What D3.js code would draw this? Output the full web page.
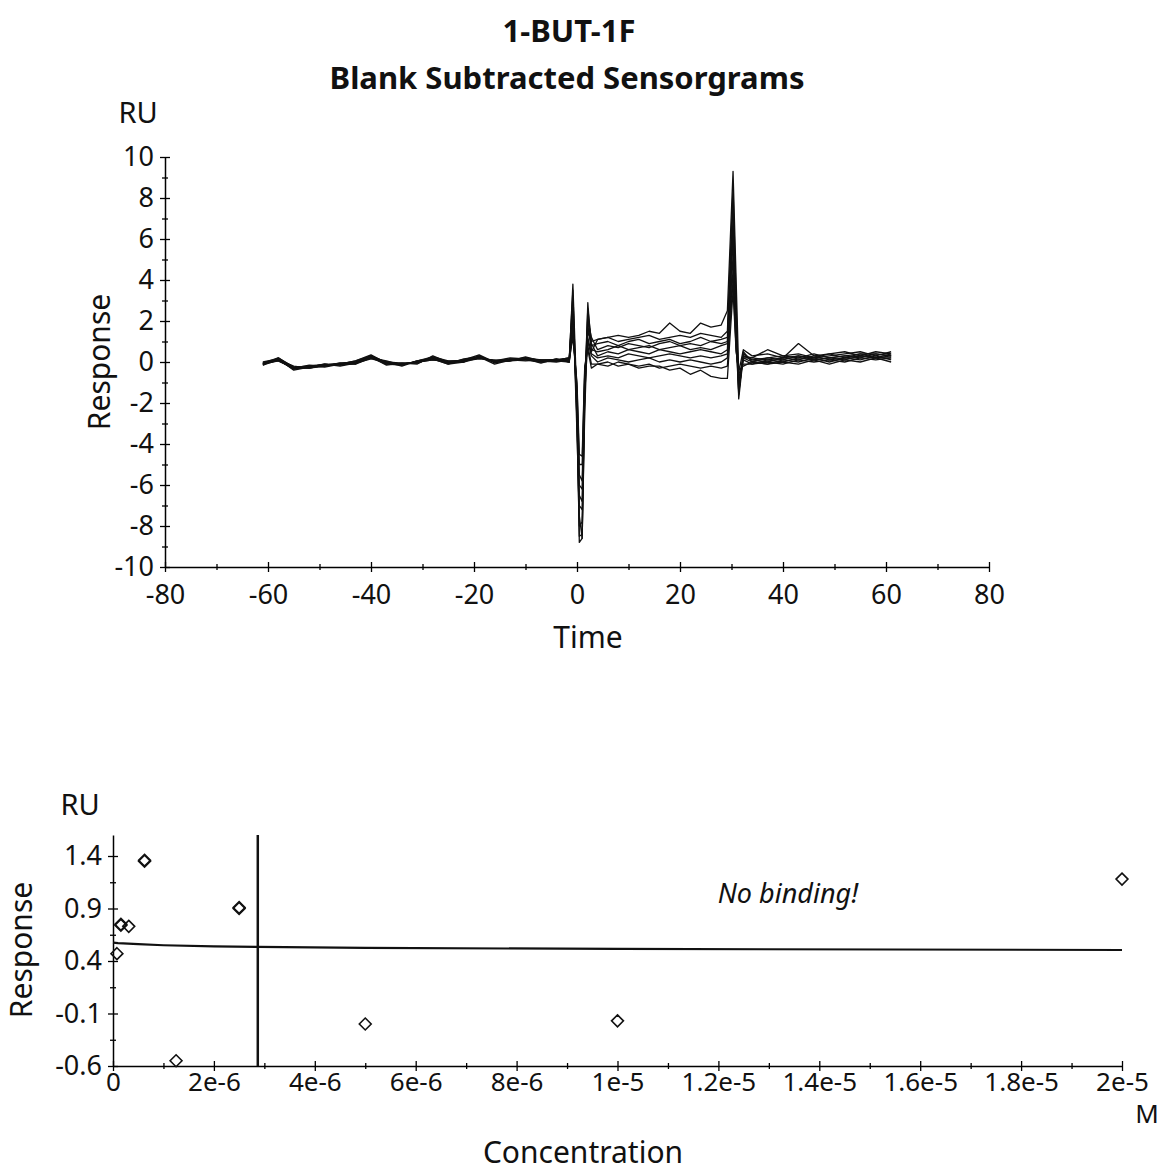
<!DOCTYPE html>
<html>
<head>
<meta charset="utf-8">
<script src="https://d3js.org/d3.v7.min.js"></script>
<style>
  body { margin: 0; background: #fff; }
  svg { display: block; }
  text { font-family: "Noto Sans", "Open Sans", sans-serif; fill: #111; }
  .tick text { font-size: 27px; }
  .title { font-weight: bold; font-size: 31px; }
</style>
</head>
<body>
<svg width="1159" height="1174"></svg>
<script>

// ---- sensorgram data (top chart) ----
const sensorTime = [-61, -58, -55, -52, -49, -46, -43, -40, -37, -34, -31, -28, -25, -22, -19, -16, -13, -10, -7, -4,
  -1.5, -0.8, 0, 0.45, 1, 1.5, 2.1, 2.8,
  4, 6, 8, 10, 12, 14, 16, 18, 20, 22, 24, 26, 28,
  29.2, 30.3, 30.9, 31.4, 32.3,
  34, 37, 40, 43, 46, 49, 52, 55, 58, 61];

const curve1 = [-0.1, 0.15, -0.3, -0.25, -0.15, -0.1, -0.05, 0.25, -0.05, -0.1, 0.0, 0.2, -0.05, 0.05, 0.25, 0.0, 0.1, 0.15, 0.05, 0.1,
  0.1, 3.8, -2, -8.8, -8.6, -2, 2.9, 0.5,
  1.1, 1.2, 1.3, 1.2, 1.3, 1.5, 1.4, 1.9, 1.5, 1.4, 1.9, 1.7, 1.8,
  2.5, 9.3, 4, -0.5, 0.6,
  0.3, 0.4, 0.2, 0.9, 0.3, 0.4, 0.5, 0.3, 0.5, 0.4];
const curve2 = [-0.05, 0.1, -0.35, -0.2, -0.1, -0.15, 0.0, 0.3, 0.0, -0.05, -0.05, 0.25, 0.0, 0.1, 0.2, 0.05, 0.05, 0.2, 0.1, 0.05,
  0.2, 3.5, -3, -8.5, -8.4, -1, 2.6, 1.0,
  1.1, 1.2, 1.0, 1.1, 1.2, 1.3, 1.1, 1.2, 1.3, 1.2, 1.4, 1.3, 1.2,
  1.5, 8.5, 3, -1.8, 0.3,
  0.2, 0.6, 0.3, 0.4, 0.2, 0.3, 0.4, 0.5, 0.3, 0.5];
const curve3 = [-0.15, 0.2, -0.25, -0.3, -0.2, -0.05, -0.1, 0.2, -0.1, -0.15, 0.05, 0.15, -0.1, 0.0, 0.3, -0.05, 0.15, 0.1, 0.0, 0.15,
  0.0, 3.2, -2.5, -8.0, -7.8, -1.5, 2.3, 0.8,
  0.9, 1.0, 0.8, 1.0, 1.1, 0.9, 1.0, 1.1, 0.9, 1.0, 1.2, 1.0, 1.1,
  1.2, 7.8, 2.5, -1.5, 0.4,
  0.1, 0.2, 0.3, 0.2, 0.4, 0.2, 0.3, 0.4, 0.4, 0.3];
const curve4 = [-0.1, 0.05, -0.3, -0.15, -0.2, -0.1, 0.05, 0.35, -0.05, -0.1, 0.0, 0.1, 0.05, 0.05, 0.15, 0.1, 0.05, 0.25, 0.05, 0.0,
  0.1, 2.9, -3.5, -7.5, -8.6, -2.5, 2.0, 1.2,
  0.6, 0.8, 0.7, 0.9, 0.8, 0.7, 0.9, 1.0, 0.8, 0.9, 0.8, 1.0, 0.9,
  1.0, 7.0, 2.0, -1.2, 0.2,
  0.2, 0.1, 0.2, 0.3, 0.2, 0.4, 0.2, 0.3, 0.2, 0.4];
const curve5 = [0.0, 0.15, -0.4, -0.25, -0.1, -0.2, -0.05, 0.15, 0.0, -0.2, 0.05, 0.2, -0.05, 0.1, 0.35, 0.0, 0.1, 0.05, 0.1, 0.1,
  0.2, 2.6, -2.8, -7.0, -7.2, -1.2, 1.8, 0.6,
  0.5, 0.6, 0.8, 0.6, 0.7, 0.8, 0.6, 0.7, 0.8, 0.6, 0.7, 0.6, 0.8,
  0.9, 6.5, 1.5, -1.6, 0.5,
  0.0, 0.2, 0.1, 0.3, 0.1, 0.2, 0.3, 0.2, 0.4, 0.3];
const curve6 = [-0.1, 0.1, -0.2, -0.3, -0.15, -0.05, 0.0, 0.25, -0.15, -0.05, -0.1, 0.3, 0.0, 0.0, 0.2, 0.05, 0.2, 0.15, -0.05, 0.15,
  0.0, 2.3, -2.2, -6.5, -6.8, -0.8, 1.5, 0.9,
  0.3, 0.5, 0.4, 0.6, 0.5, 0.4, 0.6, 0.5, 0.4, 0.5, 0.6, 0.5, 0.4,
  0.6, 6.0, 1.2, -1.0, 0.3,
  0.1, 0.0, 0.2, 0.1, 0.3, 0.1, 0.2, 0.4, 0.2, 0.3];
const curve7 = [-0.05, 0.2, -0.3, -0.2, -0.25, -0.1, -0.1, 0.3, -0.05, -0.1, 0.0, 0.15, -0.1, 0.15, 0.25, -0.1, 0.1, 0.2, 0.05, 0.05,
  0.1, 2.0, -1.8, -6.0, -6.2, -1.6, 1.2, 0.4,
  0.2, 0.3, 0.2, 0.4, 0.3, 0.2, 0.3, 0.4, 0.3, 0.2, 0.3, 0.2, 0.3,
  0.4, 5.2, 1.0, -0.8, 0.1,
  -0.1, 0.1, 0.0, 0.2, 0.1, 0.2, 0.1, 0.3, 0.2, 0.2];
const curve8 = [-0.15, 0.1, -0.35, -0.25, -0.1, -0.15, -0.05, 0.2, 0.05, -0.15, 0.05, 0.25, 0.05, 0.0, 0.3, 0.0, 0.05, 0.1, 0.1, 0.1,
  0.2, 1.8, -1.5, -5.5, -5.8, -0.6, 1.0, 0.3,
  0.0, 0.2, 0.1, 0.0, 0.1, 0.2, 0.0, 0.1, 0.0, 0.1, 0.0, -0.1, 0.0,
  0.2, 4.5, 0.8, -1.4, 0.2,
  0.0, -0.1, 0.1, 0.0, 0.2, 0.0, 0.2, 0.1, 0.3, 0.1];
const curve9 = [-0.1, 0.15, -0.25, -0.2, -0.2, -0.1, 0.05, 0.3, -0.1, -0.05, -0.05, 0.2, -0.05, 0.05, 0.2, 0.05, 0.15, 0.15, 0.0, 0.05,
  0.0, 1.5, -1.2, -5.0, -5.0, -0.4, 0.8, -0.1,
  -0.1, -0.2, 0.0, -0.1, -0.2, -0.1, -0.3, -0.2, -0.1, -0.2, -0.3, -0.2, -0.3,
  -0.2, 4.0, 0.6, -0.6, -0.1,
  -0.1, 0.0, -0.1, 0.1, 0.0, 0.1, 0.0, 0.2, 0.1, 0.2];
const curve10 = [-0.05, 0.05, -0.3, -0.3, -0.15, -0.05, -0.05, 0.25, 0.0, -0.1, 0.0, 0.1, 0.0, 0.1, 0.25, 0.0, 0.1, 0.2, 0.05, 0.1,
  0.1, 1.2, -1.0, -4.5, -4.6, -0.2, 0.6, -0.3,
  -0.1, 0.0, -0.2, -0.1, -0.3, -0.2, -0.2, -0.4, -0.3, -0.6, -0.4, -0.7, -0.8,
  -0.8, 3.5, 0.5, -0.4, -0.2,
  0.0, -0.1, 0.0, -0.1, 0.1, -0.1, 0.1, 0.0, 0.2, 0.0];
const sensorCurves = [curve1, curve2, curve3, curve4, curve5, curve6, curve7, curve8, curve9, curve10];

const timeMajor = [-80, -60, -40, -20, 0, 20, 40, 60, 80];
const timeMinor = [-70, -50, -30, -10, 10, 30, 50, 70];
const respMajor = [-10, -8, -6, -4, -2, 0, 2, 4, 6, 8, 10];
const respMinor = [-9, -7, -5, -3, -1, 1, 3, 5, 7, 9];

// ---- affinity data (bottom chart) ----
const concValues = [7.8e-8, 1.5625e-7, 1.5625e-7, 3.125e-7, 6.25e-7, 6.25e-7, 1.25e-6, 2.5e-6, 2.5e-6, 5e-6, 1e-5, 2e-5];
const respValues = [0.47, 0.74, 0.75, 0.73, 1.36, 1.35, -0.55, 0.91, 0.90, -0.2, -0.17, 1.18];
const fitConc = [0, 1e-7, 5e-7, 1e-6, 2e-6, 2.87e-6, 5e-6, 1e-5, 2e-5];
const fitResp = [0.575, 0.57, 0.56, 0.55, 0.54, 0.535, 0.525, 0.515, 0.505];
const kdConc = 2.87e-6;

const concMajor = [0, 2e-6, 4e-6, 6e-6, 8e-6, 1e-5, 1.2e-5, 1.4e-5, 1.6e-5, 1.8e-5, 2e-5];
const concLabels = ["0", "2e-6", "4e-6", "6e-6", "8e-6", "1e-5", "1.2e-5", "1.4e-5", "1.6e-5", "1.8e-5", "2e-5"];
const concMinor = [1e-6, 3e-6, 5e-6, 7e-6, 9e-6, 1.1e-5, 1.3e-5, 1.5e-5, 1.7e-5, 1.9e-5];
const fitMajor = [-0.6, -0.1, 0.4, 0.9, 1.4];
const fitLabels = ["-0.6", "-0.1", "0.4", "0.9", "1.4"];
const fitMinor = [-0.35, 0.15, 0.65, 1.15];

const svg = d3.select("svg");

// titles
svg.append("text").attr("class", "title").attr("x", 569).attr("y", 42)
  .attr("text-anchor", "middle").text("1-BUT-1F");
svg.append("text").attr("class", "title").attr("x", 567).attr("y", 89)
  .attr("text-anchor", "middle").text("Blank Subtracted Sensorgrams");

// helper: make the ticks cross the axis line
function crossTicks(g, horizontal, major) {
  g.selectAll(".tick line").attr(horizontal ? "y1" : "x1", horizontal ? -major : major);
  g.select(".domain").attr("stroke-width", 1.5);
  g.selectAll(".tick line").attr("stroke-width", 1.3);
}

// ================= top chart =================
var x1 = d3.scaleLinear().domain([-80, 80]).range([165, 989]);
var y1 = d3.scaleLinear().domain([-10, 10]).range([567, 157]);

var gx1 = svg.append("g").attr("transform", "translate(0,567)")
  .call(d3.axisBottom(x1).tickValues(timeMajor).tickSizeInner(5).tickSizeOuter(0).tickPadding(13).tickFormat(d => String(d)));
crossTicks(gx1, true, 5);
var gx1m = svg.append("g").attr("transform", "translate(0,567)")
  .call(d3.axisBottom(x1).tickValues(timeMinor).tickSize(3).tickFormat(""));
gx1m.select(".domain").remove();
crossTicks(gx1m, true, 3);

var gy1 = svg.append("g").attr("transform", "translate(165,0)")
  .call(d3.axisLeft(y1).tickValues(respMajor).tickSizeInner(5).tickSizeOuter(0).tickPadding(6).tickFormat(d => String(d)));
crossTicks(gy1, false, 5);
var gy1m = svg.append("g").attr("transform", "translate(165,0)")
  .call(d3.axisLeft(y1).tickValues(respMinor).tickSize(3).tickFormat(""));
gy1m.select(".domain").remove();
crossTicks(gy1m, false, 3);

var line1 = d3.line().x((d, i) => x1(sensorTime[i])).y(d => y1(d));
svg.append("g").selectAll("path")
  .data(sensorCurves)
  .enter()
  .append("path")
  .attr("d", d => line1(d))
  .attr("fill", "none")
  .attr("stroke", "#111")
  .attr("stroke-width", 1.3)
  .attr("stroke-linejoin", "round");

svg.append("text").attr("x", 138).attr("y", 123).attr("text-anchor", "middle")
  .style("font-size", "29px").text("RU");
svg.append("text").attr("transform", "translate(110,362) rotate(-90)").attr("text-anchor", "middle")
  .style("font-size", "30px").text("Response");
svg.append("text").attr("x", 588).attr("y", 648).attr("text-anchor", "middle")
  .style("font-size", "30px").text("Time");

// ================= bottom chart =================
var x2 = d3.scaleLinear().domain([0, 2e-5]).range([113, 1122]);
var y2 = d3.scaleLinear().domain([-0.6, 1.6]).range([1066, 835]);

var gx2 = svg.append("g").attr("transform", "translate(0,1066)")
  .call(d3.axisBottom(x2).tickValues(concMajor).tickSizeInner(5).tickSizeOuter(0).tickPadding(2)
    .tickFormat((d, i) => concLabels[i]));
crossTicks(gx2, true, 5);
gx2.selectAll(".tick text").style("font-size", "26px");
var gx2m = svg.append("g").attr("transform", "translate(0,1066)")
  .call(d3.axisBottom(x2).tickValues(concMinor).tickSize(3).tickFormat(""));
gx2m.select(".domain").remove();
crossTicks(gx2m, true, 3);

var gy2 = svg.append("g").attr("transform", "translate(113,0)")
  .call(d3.axisLeft(y2).tickValues(fitMajor).tickSizeInner(5).tickSizeOuter(0).tickPadding(6)
    .tickFormat((d, i) => fitLabels[i]));
crossTicks(gy2, false, 5);
var gy2m = svg.append("g").attr("transform", "translate(113,0)")
  .call(d3.axisLeft(y2).tickValues(fitMinor).tickSize(3).tickFormat(""));
gy2m.select(".domain").remove();
crossTicks(gy2m, false, 3);

// KD marker
svg.append("line")
  .attr("x1", x2(kdConc)).attr("x2", x2(kdConc))
  .attr("y1", y2(-0.6)).attr("y2", y2(1.6))
  .attr("stroke", "#111").attr("stroke-width", 2.5);

// fitted curve
var line2 = d3.line().x((d, i) => x2(fitConc[i])).y(d => y2(d));
svg.append("path")
  .attr("d", line2(fitResp))
  .attr("fill", "none").attr("stroke", "#111").attr("stroke-width", 2.2);

// measured points as open diamonds
var diamond = d3.symbol().type(d3.symbolDiamond2).size(90);
svg.append("g").selectAll("path")
  .data(respValues)
  .enter()
  .append("path")
  .attr("d", diamond)
  .attr("transform", (d, i) => "translate(" + x2(concValues[i]) + "," + y2(d) + ")")
  .attr("fill", "none").attr("stroke", "#111").attr("stroke-width", 1.6);

svg.append("text").attr("x", 788).attr("y", 903).attr("text-anchor", "middle")
  .style("font-size", "27px").style("font-style", "italic").text("No binding!");

svg.append("text").attr("x", 80).attr("y", 815).attr("text-anchor", "middle")
  .style("font-size", "29px").text("RU");
svg.append("text").attr("transform", "translate(32,950) rotate(-90)").attr("text-anchor", "middle")
  .style("font-size", "30px").text("Response");
svg.append("text").attr("x", 1147).attr("y", 1123).attr("text-anchor", "middle")
  .style("font-size", "26px").text("M");
svg.append("text").attr("x", 583).attr("y", 1163).attr("text-anchor", "middle")
  .style("font-size", "30px").text("Concentration");

</script>
</body>
</html>
